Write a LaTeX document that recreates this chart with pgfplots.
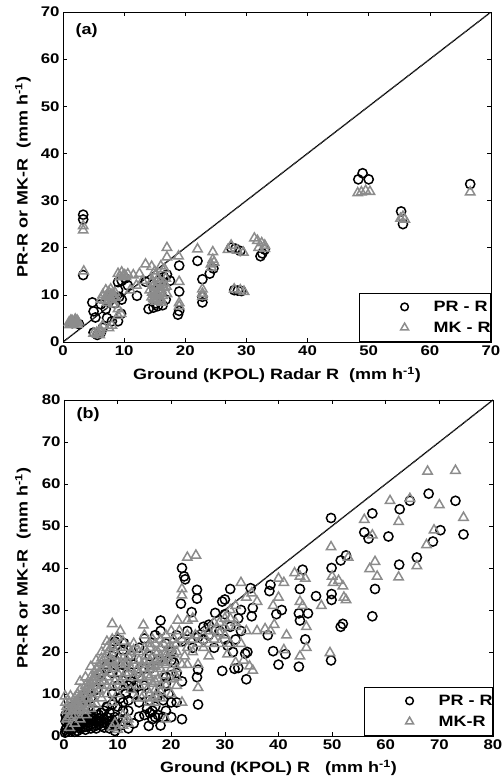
\documentclass[border=0pt]{standalone}
\usepackage{pgfplots}
\pgfplotsset{compat=1.18}
\usepackage{fontspec}
\setmainfont{Liberation Sans}[FakeStretch=1.2]
\definecolor{mkgray}{RGB}{140,140,140}
\newcommand{\labfont}{\fontsize{15}{15}\selectfont\bfseries}
\pgfplotsset{
  myaxis/.style={
    scale only axis,
    tick align=inside,
    major tick length=4pt,
    axis line style={line width=0.9pt},
    every tick/.style={black, line width=0.6pt},
    tick label style={font=\fontsize{14}{14}\selectfont\bfseries},
    /pgf/number format/assume math mode=true,
    legend cell align=left,
    legend style={at={(1,0)}, anchor=south east, draw=black, line width=0.8pt,
      font=\labfont, inner xsep=0pt, inner ysep=8pt, row sep=9pt,
      nodes={inner sep=0pt}},
  },
  prstyle/.style={only marks, mark=o, mark size=4.6pt, mark options={line width=1.5pt, draw=black},
    legend image code/.code={\path[draw=none,fill=none] (-45pt,0pt) -- (29pt,0pt); \path[draw=none] plot[only marks, mark=o, mark size=3.8pt, mark options={line width=1.5pt, draw=black}] coordinates {(0pt,0pt)};}},
  mkstyle/.style={only marks, mark=triangle, mark size=5.4pt, mark options={line width=1.5pt, draw=mkgray},
    legend image code/.code={\path[draw=none,fill=none] (-45pt,0pt) -- (29pt,0pt); \path[draw=none] plot[only marks, mark=triangle, mark size=4.6pt, mark options={line width=1.5pt, draw=mkgray}] coordinates {(0pt,0pt)};}},
  diag/.style={black, line width=1.4pt, dash pattern=on 1pt off 0.5pt, forget plot},
}
\begin{document}
\begin{tikzpicture}
\useasboundingbox (0,0) rectangle (503pt,780pt);
% ---------------- panel (a)
\begin{axis}[myaxis,
  at={(63pt,438pt)}, anchor=south west,
  width=428pt, height=330pt,
  xmin=0, xmax=70, ymin=0, ymax=70,
  xtick={0,10,...,70}, ytick={0,10,...,70},
  every axis x label/.style={at={(axis description cs:0.5,-0.1)}, anchor=center, font=\labfont},
  every axis y label/.style={at={(axis description cs:-0.0935,0.5)}, rotate=90, anchor=center, font=\labfont},
  xlabel={Ground (KPOL) Radar R\ \ (mm h\textsuperscript{-1})},
  ylabel={PR-R or MK-R\ \ (mm h\textsuperscript{-1})},
]
\addplot[diag] coordinates {(0,0) (70,70)};
\addplot[prstyle] coordinates {
(3.3,27.0) (3.3,26.0) (3.3,14.2) (49.0,35.8) (48.3,34.5) (50.0,34.5) (66.6,33.5)
(55.3,27.7) (55.6,25.0) (22.0,17.2) (22.8,13.3) (24.0,14.5) (24.6,15.6) (19.0,16.2)
(19.0,10.7) (18.8,5.8) (19.0,6.6) (22.8,8.4) (22.8,9.6) (27.5,20.0) (28.2,19.8)
(29.0,19.3) (28.0,11.0) (28.6,10.9) (29.2,10.8) (32.3,18.2) (32.6,18.8) (33.0,19.6)
(14.0,7.0) (14.8,7.3) (15.5,7.6) (16.3,7.8) (15.2,8.2) (16.5,13.8) (17.0,14.3)
(15.8,13.2) (14.6,12.2) (13.5,12.8) (12.1,9.8) (10.6,12.0) (9.0,12.7) (9.6,13.0)
(10.2,13.5) (9.2,9.6) (9.6,9.0) (8.5,8.2) (4.8,8.4) (5.0,6.5) (5.3,5.2) (5.0,2.0)
(5.6,1.5) (6.2,2.0) (7.2,5.1) (8.0,4.4) (9.0,4.4) (7.0,7.0) (6.2,8.0) (1.5,4.0)
(2.0,4.2) (2.6,3.8) (8.0,10.0) (9.0,11.0) (17.5,13.0) (16.0,10.5) (7.5,8.5)
(9.5,6.0) (6.5,3.0) (15.0,11.0) (16.8,9.0)
};
\addplot[mkstyle] coordinates {
(3.3,24.6) (3.3,23.7) (3.4,15.0) (48.2,31.6) (48.8,31.8) (49.5,32.1) (50.2,31.9)
(66.6,31.8) (55.2,26.2) (55.6,26.6) (55.9,26.0) (17.0,20.0) (17.0,18.0) (18.9,18.2)
(19.0,12.8) (19.0,8.3) (19.0,7.6) (22.0,19.7) (24.5,19.1) (24.5,17.5) (24.2,16.5)
(22.8,11.2) (22.8,10.3) (22.8,9.6) (13.5,16.5) (14.5,16.0) (12.5,14.5) (11.5,14.2)
(10.1,14.2) (9.6,14.8) (9.0,14.5) (10.6,14.4) (15.0,15.0) (16.0,16.1) (16.6,15.5)
(14.6,13.1) (15.5,12.0) (16.1,11.0) (15.0,10.1) (14.5,9.5) (16.0,9.2) (17.0,10.2)
(14.2,11.0) (15.2,8.6) (15.8,10.5) (16.5,12.5) (14.8,12.0) (15.5,9.8) (16.2,8.4)
(15.0,11.5) (15.8,12.8) (16.6,11.5) (14.6,10.5) (15.3,9.0) (16.8,13.5)
(14.8,9.2) (15.4,10.4) (16.2,12.2) (15.6,13.6) (14.4,12.6) (16.9,11.8) (15.1,14.2)
(16.3,9.8) (14.9,8.9) (15.8,8.8) (24.3,15.8) (24.7,16.9)
(27.0,19.6) (27.5,20.5) (28.5,19.4) (29.5,19.0) (28.0,11.2) (29.0,11.0) (29.6,10.7)
(31.3,22.0) (31.8,21.5) (32.5,21.0) (33.0,20.5) (33.0,19.8) (32.0,20.0)
(7.0,11.0) (7.5,10.6) (8.0,10.1) (7.0,9.6) (6.2,9.0) (8.0,9.0) (7.5,9.8) (8.5,10.5)
(6.5,10.0) (7.2,8.4) (8.2,8.0) (7.3,10.2) (7.8,11.2) (8.3,9.5) (6.8,8.8) (7.6,8.9)
(8.6,9.4) (9.3,13.8) (9.8,14.0) (10.3,13.8)
(9.0,7.0) (9.5,6.0) (9.0,5.6) (8.0,3.5) (7.5,3.0)
(6.1,2.6) (5.5,2.0) (5.0,1.8) (6.0,1.5) (6.5,3.5) (6.0,2.2) (5.7,1.6)
(1.0,4.2) (1.5,4.5) (2.0,4.8)
(2.5,4.2) (1.8,3.8) (1.2,3.9) (2.2,4.0) (1.6,4.2) (1.3,4.6) (1.9,4.4) (2.3,4.6)
(1.1,3.6) (2.4,3.7) (12.0,12.0) (13.0,13.0) (11.0,11.0)
};
\legend{PR\ -\ R\hspace{12pt}, MK\ -\ R\hspace{12pt}}
\node[font=\labfont] at (axis description cs:0.055,0.945) {(a)};
\end{axis}
% ---------------- panel (b)
\begin{axis}[myaxis,
  at={(64pt,44pt)}, anchor=south west,
  width=429pt, height=336pt,
  xmin=0, xmax=80, ymin=0, ymax=80,
  xtick={0,10,...,80}, ytick={0,10,...,80},
  every axis x label/.style={at={(axis description cs:0.5,-0.095)}, anchor=center, font=\labfont},
  every axis y label/.style={at={(axis description cs:-0.0956,0.5)}, rotate=90, anchor=center, font=\labfont},
  xlabel={Ground (KPOL) R\ \ \ (mm h\textsuperscript{-1})},
  ylabel={PR-R or MK-R\ \ (mm h\textsuperscript{-1})},
]
\addplot[diag] coordinates {(0,0) (80,80)};
\addplot[prstyle] coordinates {
(49.8,51.9) (57.5,53.0) (56.0,48.5) (56.8,47.0) (60.5,47.5) (62.6,54.0) (64.5,56.0)
(68.0,57.7) (73.0,56.0) (74.5,48.0) (70.2,49.0) (68.8,46.3) (65.8,42.5) (62.5,40.8)
(58.0,35.0) (57.5,28.5) (52.6,43.0) (51.6,41.8) (49.9,40.0) (49.9,33.8) (49.9,32.4)
(51.6,26.0) (52.0,26.7) (49.8,18.0) (44.5,39.6) (44.0,35.0) (43.8,29.2) (45.5,29.2)
(44.0,27.5) (45.0,23.0) (43.8,16.5) (47.0,33.3) (40.6,30.0) (39.6,29.0) (38.5,36.0)
(38.3,34.5) (39.0,20.2) (40.0,17.0) (41.3,19.5) (38.0,24.0) (34.8,35.2) (35.2,30.5)
(35.0,28.5) (34.2,20.0) (33.8,19.6) (34.0,13.5) (31.8,16.0) (32.5,16.2) (31.0,35.0)
(29.5,32.0) (28.2,29.3) (30.0,29.0) (31.0,26.0) (32.0,23.0) (30.5,21.5) (29.5,15.5)
(32.5,28.0) (33.0,25.0) (31.5,20.0) (26.0,26.0) (25.0,23.5) (23.8,29.5) (21.8,31.5)
(24.8,34.8) (24.8,32.7) (22.0,40.0) (22.4,38.0) (22.6,37.3) (21.0,24.0) (22.0,13.0)
(24.8,14.0) (25.0,15.8) (25.0,7.5) (20.0,4.5) (22.0,4.0) (20.0,8.0) (19.0,14.0)
(18.0,27.5) (18.0,2.5) (15.0,23.2) (15.8,2.4) (14.0,4.6) (10.0,23.0) (11.2,22.1)
(9.3,20.0) (12.0,14.7) (12.0,1.8) (9.5,1.2) (11.0,8.0) (17.5,18.0) (16.0,16.0)
(15.0,12.0) (17.0,7.0) (16.5,6.0) (18.5,8.5) (20.5,17.5) (13.0,17.0) (14.0,21.0)
(20.0,20.0) (22.0,22.5) (8.0,16.0) (9.0,15.0) (7.0,13.0) (6.0,11.0) (5.0,9.0)
(4.0,7.0) (3.0,5.0) (2.0,4.0) (1.0,3.0) (0.5,2.0) (0.3,5.0) (1.0,6.5) (2.5,2.5)
(3.5,3.0) (4.5,3.2) (5.5,3.0) (6.5,2.8) (7.5,3.2) (8.5,3.5) (4.0,2.2) (5.0,2.8)
(6.0,3.5) (3.0,1.8) (1.5,1.5) (10.0,4.0) (11.0,3.5) (12.0,6.0) (9.0,10.0) (10.0,12.0)
(8.0,7.0) (7.0,5.5) (6.0,6.0) (5.0,5.0) (11.0,20.5) (12.5,19.0) (9.5,18.0) (4.5,11.0)
(3.5,9.5)
(0.5,1.0) (1.0,1.5) (2.0,2.0) (2.5,1.2) (3.0,2.5) (3.5,2.0) (4.0,3.5) (4.5,2.5)
(5.0,3.8) (5.5,2.2) (6.0,2.5) (6.5,3.5) (7.0,2.4) (7.5,4.0) (8.0,3.0) (8.5,2.5)
(9.0,3.8) (5.0,4.5) (4.0,4.0) (3.0,3.5) (2.0,3.2) (1.0,2.3) (0.3,3.5) (0.5,4.2)
(0.8,5.5) (1.5,7.0) (2.0,5.5) (3.0,7.0) (4.0,9.0) (5.0,10.5) (6.0,13.5) (7.0,15.0)
(8.0,17.0) (9.0,19.0) (9.5,22.5) (10.5,15.0) (11.0,17.0) (12.0,12.0) (13.0,10.0)
(14.0,14.0) (15.0,16.0) (16.0,19.0) (17.0,24.0) (18.0,25.0) (19.0,22.0) (20.0,18.0)
(21.0,15.0) (19.5,10.0) (17.5,5.0) (18.5,4.5) (16.5,4.0) (15.0,5.0) (13.0,3.0)
(12.0,8.5) (14.0,8.0) (10.0,7.0) (11.0,6.0) (23.0,25.0) (24.0,21.0) (26.0,23.0)
(27.0,24.0) (28.0,21.0) (29.0,25.0) (30.0,23.0) (33.0,30.0) (30.0,32.5) (27.0,26.5)
(1.5,2.5) (2.5,3.5) (3.5,4.0) (4.5,4.2) (5.5,4.0) (6.5,4.2) (7.5,2.0) (8.0,4.5)
(9.0,3.0) (9.5,4.5) (10.5,2.5) (3.0,2.8) (4.0,1.5) (5.0,1.8) (6.0,1.8) (7.0,3.8)
(8.5,1.8) (2.0,1.0) (0.3,1.5) (0.2,0.8) (1.0,4.5) (6.5,5.0) (7.5,6.0) (8.5,5.5)
(9.0,7.5) (10.5,9.0) (11.5,10.0) (12.5,13.0) (13.0,11.5) (14.5,10.0) (16.0,8.5)
(17.5,9.5) (18.0,11.0) (19.0,12.5) (20.0,14.5) (16.0,5.5) (15.5,6.5) (17.0,4.5)
(19.0,6.0) (21.0,8.0)
};
\addplot[mkstyle] coordinates {
(67.8,63.0) (73.0,63.2) (70.0,55.0) (74.5,52.0) (64.5,56.5) (60.8,56.0) (62.4,51.0)
(56.0,51.5) (57.5,47.8) (69.0,49.0) (67.6,45.5) (65.8,40.5) (62.4,37.8) (58.0,41.5)
(57.0,39.8) (58.4,38.0) (49.8,45.0) (50.0,38.0) (50.2,36.5) (51.2,37.0) (52.0,35.7)
(52.2,33.0) (52.6,32.4) (53.0,42.5) (49.6,19.8) (44.0,38.0) (45.0,37.5) (43.0,38.8)
(44.0,32.0) (44.5,31.0) (45.2,26.0) (44.0,19.0) (45.2,21.0) (48.0,31.0) (40.0,37.5)
(41.0,36.5) (40.0,33.0) (39.0,31.0) (41.5,24.0) (39.2,26.5) (38.5,25.0) (37.5,25.5)
(41.0,20.5) (35.0,34.0) (36.0,32.0) (34.0,33.0) (33.0,36.5) (34.6,16.6) (35.2,15.6)
(36.0,25.0) (34.0,25.0) (30.0,24.0) (31.0,28.0) (32.0,27.0) (30.5,19.5) (32.0,17.5)
(32.0,26.0) (29.0,22.0) (28.0,25.0) (27.0,22.0) (23.0,42.5) (24.6,43.0) (22.0,35.0)
(22.0,33.5) (21.2,27.5) (23.0,27.5) (20.0,25.0) (19.0,24.0) (18.0,23.0) (17.0,22.0)
(16.0,21.0) (14.8,26.4) (14.0,20.0) (15.2,19.0) (24.0,20.0) (25.0,17.0) (25.0,11.5)
(24.0,28.0) (22.0,8.0) (21.0,12.0) (20.0,16.0) (19.0,19.0) (18.0,21.0) (17.0,18.0)
(9.0,26.7) (10.5,25.0) (8.0,22.5) (7.0,20.0) (6.0,18.0) (5.0,16.5) (4.0,14.0)
(3.0,11.0) (2.0,9.0) (1.0,8.0) (0.5,7.0) (10.0,21.0) (11.5,17.0) (12.0,15.0)
(13.0,18.0) (16.0,10.0) (17.0,11.0) (18.0,12.0) (16.0,14.0) (17.0,15.0) (15.0,13.0)
(18.0,9.0) (17.0,8.0) (16.5,12.5) (17.5,13.5) (6.0,10.0) (5.0,8.0) (4.0,6.0)
(7.0,12.0) (8.0,14.0) (9.0,16.0) (8.5,18.0) (7.5,17.0) (6.5,15.0) (5.5,13.0)
(4.5,10.0) (3.5,8.0) (2.5,6.0) (1.5,5.0) (0.5,4.0) (11.0,5.0) (12.0,3.0) (9.0,2.0)
(10.0,19.0) (9.5,13.0) (12.5,11.0) (13.5,9.0) (19.0,4.0) (15.0,16.0) (14.0,15.0)
(2.0,3.0) (3.0,4.0) (4.0,5.0) (1.0,2.0)
(1.5,7.0) (2.0,6.5) (2.5,8.0) (3.0,8.5) (3.5,10.0) (4.0,11.0) (4.5,12.0) (5.0,12.5)
(5.5,14.0) (6.0,14.5) (6.5,16.5) (7.0,17.5) (7.5,18.5) (8.0,19.5) (8.5,20.5) (9.0,21.5)
(6.0,12.0) (7.0,14.0) (8.0,12.0) (9.0,12.0) (10.0,15.0) (10.5,17.0) (11.0,14.0)
(12.0,17.5) (12.5,20.0) (13.0,14.0) (14.0,12.0) (14.5,17.0) (15.0,21.0) (16.0,18.0)
(16.5,23.0) (17.5,20.0) (18.5,22.0) (19.5,21.0) (20.5,23.0) (21.0,20.0) (21.5,25.0)
(19.0,17.0) (18.0,16.0) (17.0,13.0) (18.5,14.5) (16.0,8.0) (15.5,11.0) (14.5,9.0)
(3.0,6.5) (2.0,5.0) (1.0,4.5) (0.5,6.0) (0.3,8.0) (0.2,9.5) (1.2,9.5) (2.5,10.0)
(3.0,13.0) (4.0,9.0) (5.0,10.5) (5.0,6.5) (6.0,7.5) (7.0,9.0) (8.0,10.0) (9.0,8.0)
(10.0,10.0) (11.0,12.0) (11.0,2.5) (12.0,4.0) (10.0,1.5) (9.5,3.0) (23.0,17.0)
(22.5,19.0) (21.0,14.0) (20.0,10.0) (23.0,24.0) (24.5,24.0) (26.0,21.0) (27.0,19.0)
(28.0,23.0) (29.0,27.0) (30.0,26.0) (31.0,22.0) (33.0,22.0) (33.5,18.0)
(2.0,7.5) (3.0,9.5) (4.0,12.0) (5.0,14.0) (6.0,16.0) (7.0,18.5) (8.0,21.0) (9.0,23.0)
(10.0,23.5) (11.0,22.5) (12.0,21.0) (13.0,20.5) (14.0,18.0) (15.0,17.5) (16.0,16.0)
(17.0,16.5) (18.0,18.0) (19.0,20.0) (20.0,21.0) (21.0,22.0) (22.0,23.0) (18.0,19.0)
(17.0,20.0) (16.0,22.0) (15.0,24.0) (13.0,22.0) (12.0,19.0) (11.0,18.5) (10.0,17.5)
(9.0,18.0) (8.0,16.5) (7.0,15.5) (6.0,13.0) (5.0,11.5) (4.0,10.0) (3.0,9.0) (2.0,8.0)
(1.0,6.0) (1.5,6.0) (2.5,7.0) (3.5,6.0) (4.5,7.5) (5.5,9.0) (6.5,11.0) (7.5,13.0)
(8.5,15.0) (9.5,16.0) (10.5,13.0) (11.5,15.0) (12.5,16.0) (13.5,15.5) (14.5,14.0)
(15.5,14.5) (16.5,16.5) (17.5,17.0) (18.5,17.5) (19.5,18.5) (20.5,19.5) (17.0,9.5)
(16.5,9.0) (18.0,10.5) (19.0,12.0) (20.0,13.5) (21.0,16.0) (22.0,17.0) (23.0,21.0)
(24.0,23.0) (25.0,22.0) (26.0,24.0) (27.0,25.0) (28.0,27.0) (29.0,24.5) (30.0,28.0)
(31.0,30.0) (32.0,31.0)
};
\legend{PR\ -\ R\hspace{12pt}, MK-R\hspace{12pt}}
\node[font=\labfont] at (axis description cs:0.056,0.955) {(b)};
\end{axis}
\end{tikzpicture}
\end{document}
